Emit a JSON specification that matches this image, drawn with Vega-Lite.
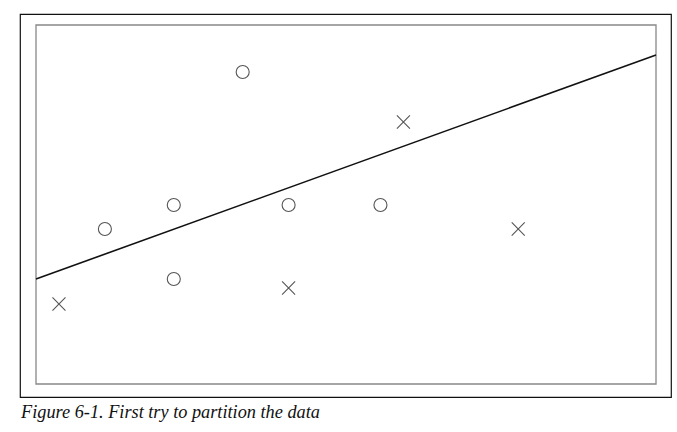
{
  "$schema": "https://vega.github.io/schema/vega-lite/v6.json",
  "width": 651,
  "height": 383,
  "autosize": {"type": "none"},
  "padding": {"left": 20, "top": 14, "right": 6, "bottom": 35},
  "config": {
    "view": {"stroke": "#111", "strokeWidth": 1.2}
  },
  "title": {
    "text": "Figure 6-1. First try to partition the data",
    "orient": "bottom",
    "anchor": "start",
    "font": "Liberation Serif",
    "fontStyle": "italic",
    "fontWeight": "normal",
    "fontSize": 18.3,
    "color": "#111",
    "offset": 7,
    "dx": 1
  },
  "datasets": {
    "pts": [
      {"x": 1, "y": 80, "cls": "x"},
      {"x": 3, "y": 155, "cls": "o"},
      {"x": 6, "y": 179, "cls": "o"},
      {"x": 6, "y": 105, "cls": "o"},
      {"x": 9, "y": 312, "cls": "o"},
      {"x": 11, "y": 179, "cls": "o"},
      {"x": 11, "y": 96, "cls": "x"},
      {"x": 15, "y": 179, "cls": "o"},
      {"x": 16, "y": 262, "cls": "x"},
      {"x": 21, "y": 155, "cls": "x"}
    ],
    "line": [
      {"x": 0, "y": 105},
      {"x": 27, "y": 329}
    ],
    "frame": [
      {"x0": 0, "x1": 27, "y0": 0, "y1": 359}
    ]
  },
  "layer": [
    {
      "data": {"name": "frame"},
      "mark": {"type": "rect", "fill": null, "stroke": "#888", "strokeWidth": 1.3},
      "encoding": {
        "x": {"field": "x0", "type": "quantitative", "scale": {"domain": [-0.697, 27.653], "nice": false, "zero": false}, "axis": null},
        "x2": {"field": "x1"},
        "y": {"field": "y0", "type": "quantitative", "scale": {"domain": [-13, 370], "nice": false, "zero": false}, "axis": null},
        "y2": {"field": "y1"}
      }
    },
    {
      "data": {"name": "line"},
      "mark": {"type": "line", "color": "#111", "strokeWidth": 1.6},
      "encoding": {
        "x": {"field": "x", "type": "quantitative"},
        "y": {"field": "y", "type": "quantitative"}
      }
    },
    {
      "data": {"name": "pts"},
      "mark": {"type": "point", "filled": false, "stroke": "#555", "strokeWidth": 1.1, "opacity": 1, "size": 170},
      "encoding": {
        "x": {"field": "x", "type": "quantitative"},
        "y": {"field": "y", "type": "quantitative"},
        "shape": {
          "field": "cls",
          "type": "nominal",
          "scale": {"domain": ["o", "x"], "range": ["circle", "M-1,-1L1,1M-1,1L1,-1"]},
          "legend": null
        }
      }
    }
  ]
}
